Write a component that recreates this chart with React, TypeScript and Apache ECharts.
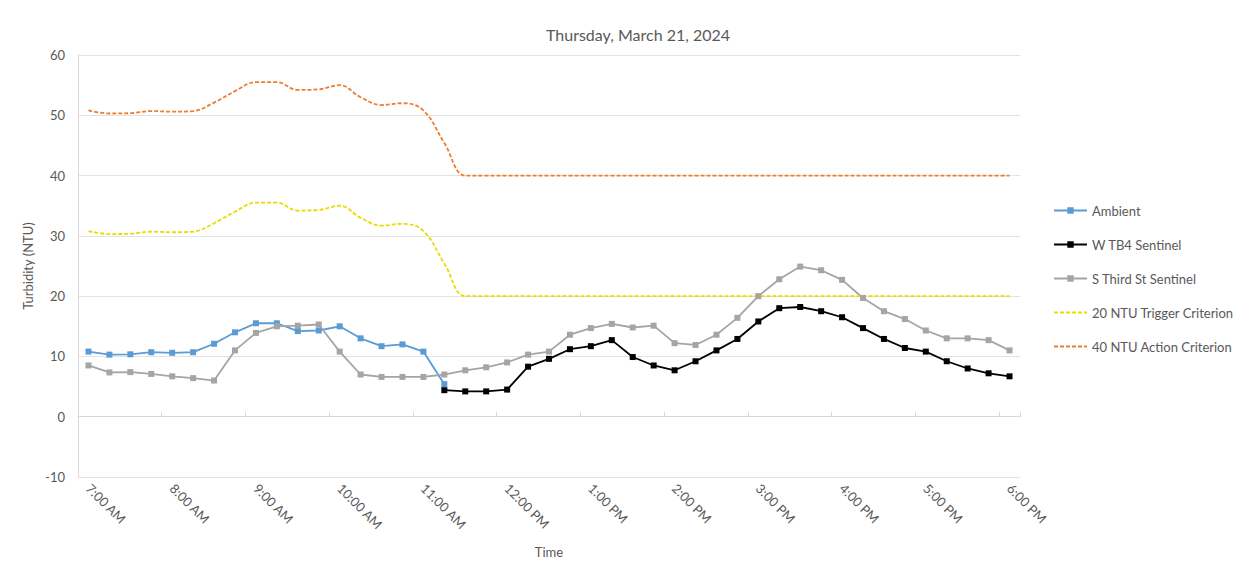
import React, { useEffect, useRef } from "react";
import * as echarts from "echarts";

const times = [
  "7:00 AM", "7:15 AM", "7:30 AM", "7:45 AM",
  "8:00 AM", "8:15 AM", "8:30 AM", "8:45 AM",
  "9:00 AM", "9:15 AM", "9:30 AM", "9:45 AM",
  "10:00 AM", "10:15 AM", "10:30 AM", "10:45 AM",
  "11:00 AM", "11:15 AM", "11:30 AM", "11:45 AM",
  "12:00 PM", "12:15 PM", "12:30 PM", "12:45 PM",
  "1:00 PM", "1:15 PM", "1:30 PM", "1:45 PM",
  "2:00 PM", "2:15 PM", "2:30 PM", "2:45 PM",
  "3:00 PM", "3:15 PM", "3:30 PM", "3:45 PM",
  "4:00 PM", "4:15 PM", "4:30 PM", "4:45 PM",
  "5:00 PM", "5:15 PM", "5:30 PM", "5:45 PM",
  "6:00 PM",
];

const ambient: (number | null)[] = [
  10.8, 10.3, 10.35, 10.7, 10.6, 10.7, 12.1, 14.0, 15.5, 15.5, 14.2, 14.3,
  15.0, 13.0, 11.7, 12.0, 10.8, 5.4,
  null, null, null, null, null, null, null, null, null, null, null, null, null,
  null, null, null, null, null, null, null, null, null, null, null, null, null, null,
];

const wTB4: (number | null)[] = [
  null, null, null, null, null, null, null, null, null, null, null, null, null,
  null, null, null, null,
  4.4, 4.2, 4.2, 4.5, 8.3, 9.6, 11.2, 11.7, 12.7, 9.9, 8.5, 7.7, 9.2, 11.0,
  12.9, 15.8, 18.0, 18.2, 17.5, 16.5, 14.7, 12.9, 11.4, 10.8, 9.2, 8.0, 7.2, 6.7,
];

const sThird: number[] = [
  8.5, 7.35, 7.4, 7.1, 6.7, 6.4, 6.0, 11.0, 13.9, 15.0, 15.1, 15.3, 10.8, 7.0,
  6.6, 6.6, 6.6, 7.0, 7.7, 8.2, 9.0, 10.3, 10.8, 13.6, 14.7, 15.4, 14.8, 15.1,
  12.2, 11.9, 13.6, 16.4, 20.0, 22.8, 24.9, 24.3, 22.7, 19.7, 17.5, 16.2, 14.3,
  13.0, 13.0, 12.7, 11.0,
];

const trigger20: number[] = [
  30.8, 30.3, 30.35, 30.7, 30.6, 30.7, 32.1, 34.0, 35.5, 35.5, 34.2, 34.3,
  35.0, 33.0, 31.7, 32.0, 30.8, 25.4,
  20, 20, 20, 20, 20, 20, 20, 20, 20, 20, 20, 20, 20, 20, 20, 20, 20, 20, 20,
  20, 20, 20, 20, 20, 20, 20, 20,
];

const action40: number[] = [
  50.8, 50.3, 50.35, 50.7, 50.6, 50.7, 52.1, 54.0, 55.5, 55.5, 54.2, 54.3,
  55.0, 53.0, 51.7, 52.0, 50.8, 45.4,
  40, 40, 40, 40, 40, 40, 40, 40, 40, 40, 40, 40, 40, 40, 40, 40, 40, 40, 40,
  40, 40, 40, 40, 40, 40, 40, 40,
];

const seriesNames = [
  "Ambient",
  "W TB4 Sentinel",
  "S Third St Sentinel",
  "20 NTU Trigger Criterion",
  "40 NTU Action Criterion",
];

const FONT = "Lato, 'Open Sans', sans-serif";
const TEXT = "#595959";

export default function App() {
  const ref = useRef<HTMLDivElement>(null);
  useEffect(() => {
    if (!ref.current) return;
    const chart = echarts.init(ref.current, undefined, { renderer: "svg" });
    const markerSeries = (name: string, data: (number | null)[], color: string) => ({
      name,
      type: "line",
      data,
      symbol: "rect",
      symbolSize: 6,
      showSymbol: true,
      connectNulls: false,
      itemStyle: { color },
      lineStyle: { color, width: 1.8 },
    });
    const dashSeries = (name: string, data: number[], color: string) => ({
      name,
      type: "line",
      data,
      smooth: 0.4,
      showSymbol: false,
      symbol: "none",
      itemStyle: { color },
      lineStyle: { color, width: 1.8, type: [4, 2] },
    });
    chart.setOption({
      animation: false,
      backgroundColor: "#ffffff",
      textStyle: { fontFamily: FONT },
      title: {
        text: "Thursday, March 21, 2024",
        left: 541,
        top: 21,
        textStyle: { fontFamily: FONT, fontSize: 16, fontWeight: "normal", color: TEXT },
      },
      grid: { left: 78, right: 232, top: 55, bottom: 94, containLabel: false },
      legend: {
        orient: "vertical",
        left: 1048,
        top: 199,
        itemWidth: 33,
        itemHeight: 8,
        itemGap: 21,
        data: [
          { name: seriesNames[0] },
          { name: seriesNames[1] },
          { name: seriesNames[2] },
          { name: seriesNames[3], itemStyle: { opacity: 0 } },
          { name: seriesNames[4], itemStyle: { opacity: 0 } },
        ],
        textStyle: { fontFamily: FONT, fontSize: 13, color: TEXT },
      },
      xAxis: [
        {
          type: "category",
          data: times,
          boundaryGap: true,
          position: "bottom",
          axisLine: { show: false, onZero: false },
          axisTick: { show: false },
          axisLabel: {
            interval: 3,
            rotate: -45,
            margin: 9,
            fontFamily: FONT,
            fontSize: 13,
            color: TEXT,
          },
          name: "Time",
          nameLocation: "middle",
          nameGap: 68,
          nameTextStyle: { fontFamily: FONT, fontSize: 13, color: TEXT },
        },
        {
          type: "category",
          data: times,
          boundaryGap: true,
          axisLine: { show: true, onZero: true, lineStyle: { color: "#d9d9d9" } },
          axisTick: { show: true, interval: 3, length: 5, lineStyle: { color: "#d9d9d9" } },
          axisLabel: { show: false },
        },
      ],
      yAxis: {
        type: "value",
        min: -10,
        max: 60,
        interval: 10,
        axisLine: { show: true, lineStyle: { color: "#d9d9d9" } },
        axisTick: { show: false },
        splitLine: { show: true, lineStyle: { color: "#e3e3e3", width: 1 } },
        axisLabel: { fontFamily: FONT, fontSize: 13, color: TEXT, margin: 13 },
        name: "Turbidity (NTU)",
        nameLocation: "middle",
        nameGap: 30,
        nameTextStyle: { fontFamily: FONT, fontSize: 13, color: TEXT },
      },
      series: [
        markerSeries(seriesNames[0], ambient, "#5b9bd5"),
        markerSeries(seriesNames[1], wTB4, "#000000"),
        markerSeries(seriesNames[2], sThird, "#a5a5a5"),
        dashSeries(seriesNames[3], trigger20, "#e6dc00"),
        dashSeries(seriesNames[4], action40, "#ed7d31"),
      ],
    });
    return () => chart.dispose();
  }, []);
  return (
    <div
      ref={ref}
      style={{ position: "absolute", left: 0, top: 0, width: 1252, height: 571, background: "#fff" }}
    />
  );
}
